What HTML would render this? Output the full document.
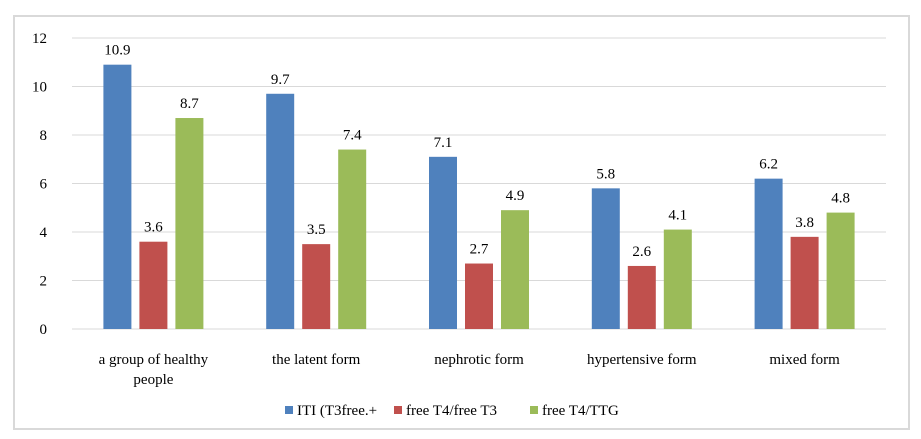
<!DOCTYPE html>
<html><head><meta charset="utf-8"><style>
body{margin:0;background:#fff;}
svg{display:block;font-family:"Liberation Serif",serif;}
</style></head><body>
<svg id="c" width="921" height="439">
<rect x="14" y="16" width="895" height="413" fill="#fff" stroke="#d9d9d9" stroke-width="2"/>
</svg>
<script>
const categories=[["a group of healthy","people"],["the latent form"],["nephrotic form"],["hypertensive form"],["mixed form"]];
const seriesNames=["ITI (T3free.+","free T4/free T3","free T4/TTG"];
const iti=[10.9,9.7,7.1,5.8,6.2];
const t4t3=[3.6,3.5,2.7,2.6,3.8];
const t4ttg=[8.7,7.4,4.9,4.1,4.8];
const yTicks=[0,2,4,6,8,10,12];
const colors=["#4f81bd","#c0504d","#9bbb59"];
const svg=document.getElementById('c');const NS="http://www.w3.org/2000/svg";
const X0=72,X1=886,Y0=329,Y12=38;
const y=v=>Y0-(v/12)*(Y0-Y12);
const cw=(X1-X0)/categories.length;
function el(t,a,txt){const e=document.createElementNS(NS,t);for(const k in a)e.setAttribute(k,a[k]);if(txt!==undefined)e.textContent=txt;svg.appendChild(e);return e;}
yTicks.forEach(t=>{
 const g=el('line',{x1:X0,x2:X1,y1:y(t),y2:y(t),stroke:'#d9d9d9','stroke-width':1});
 
 
 const l=el('text',{x:47,y:y(t)+5,'text-anchor':'end','font-size':15,fill:'#000'},String(t));
 
 
});
const series=[iti,t4t3,t4ttg];
categories.forEach((c,i)=>{
 const cx=X0+cw*(i+0.5);
 series.forEach((s,j)=>{
  const bx=cx-14+(j-1)*36;
  const r=el('rect',{x:bx,y:y(s[i]),width:28,height:Y0-y(s[i]),fill:colors[j]});
  
  
  const t=el('text',{x:bx+14,y:y(s[i])-10,'text-anchor':'middle','font-size':15,fill:'#000'},s[i].toFixed(1));
  
  
 });
 c.forEach((line,k)=>{
  const t=el('text',{x:cx,y:364+k*20,'text-anchor':'middle','font-size':15,fill:'#000'},line);
  
  
 });
});
const lx=[285,394,530];
seriesNames.forEach((n,j)=>{
 const r=el('rect',{x:lx[j],y:406,width:8,height:8,fill:colors[j]});
 
 
 const t=el('text',{x:lx[j]+12,y:415,'font-size':15,fill:'#000'},n);
 
 
});
</script>
</body></html>
